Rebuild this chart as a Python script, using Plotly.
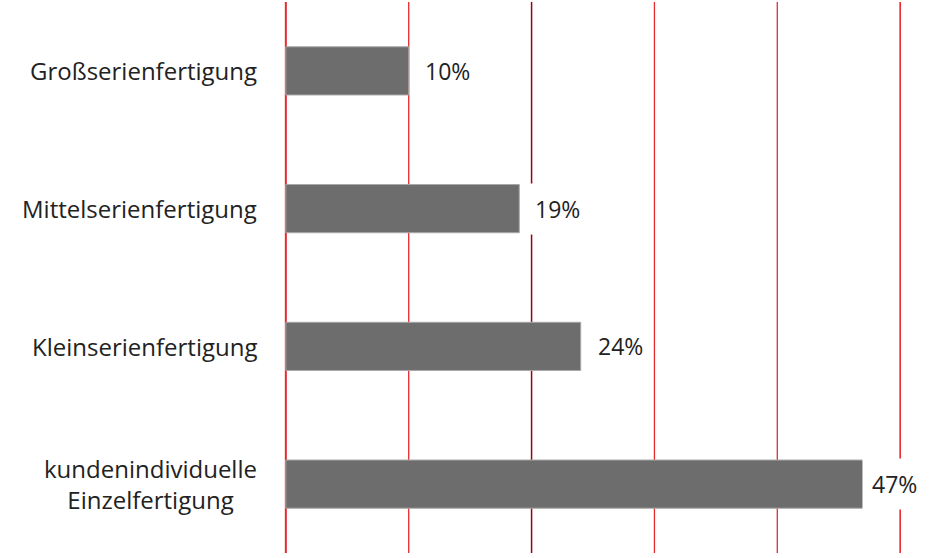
import plotly.graph_objects as go

categories = ["Großserienfertigung", "Mittelserienfertigung", "Kleinserienfertigung",
              "kundenindividuelle<br>Einzelfertigung"]
values = [10, 19, 24, 47]
labels = ["10%", "19%", "24%", "47%"]
grid_values = [0, 10, 20, 30, 40, 50]

# styling
grid_colors = ["#e52a30", "#e52a30", "#9a0010", "#e52a30", "#e52a30", "#e52a30"]
grid_widths = [2, 1.3, 1.5, 1.3, 1.3, 1.6]
label_shifts = [6, 6, 7, -1]

fig = go.Figure()
fig.add_trace(go.Bar(
    y=categories, x=values, orientation="h",
    marker=dict(color="#6d6d6d", line=dict(color="#a8a8a8", width=1)),
    width=0.35, hoverinfo="skip",
))

shapes = []
for gv, gc, gw in zip(grid_values, grid_colors, grid_widths):
    shapes.append(dict(type="line", xref="x", yref="paper", x0=gv, x1=gv, y0=0, y1=1,
                       line=dict(color=gc, width=gw), layer="below"))

annotations = []
for c, v, l, s in zip(categories, values, labels, label_shifts):
    annotations.append(dict(x=v, y=c, xref="x", yref="y", text=l, showarrow=False,
                            xanchor="left", xshift=s, bgcolor="white", borderpad=9,
                            font=dict(size=23, color="#222222", family="Open Sans")))
    annotations.append(dict(x=0, y=c, xref="x", yref="y", text=c, showarrow=False,
                            xanchor="right", xshift=-27, align="center",
                            font=dict(size=24, color="#222222", family="Open Sans")))

fig.update_layout(
    width=933, height=558,
    margin=dict(l=284, r=31, t=2, b=5),
    plot_bgcolor="white", paper_bgcolor="white",
    showlegend=False,
    shapes=shapes, annotations=annotations,
    font=dict(family="Open Sans", size=23, color="#222222"),
    xaxis=dict(range=[-0.15, 50.15], showgrid=False, showticklabels=False, zeroline=False,
               showline=False, fixedrange=True, automargin=False),
    yaxis=dict(autorange=False, range=[3.5, -0.5], showgrid=False, zeroline=False,
               showline=False, ticks="", showticklabels=False, automargin=False,
               fixedrange=True),
)

fig.write_html("out.html", post_script="document.body.style.margin='0';",
               config={"displayModeBar": False, "staticPlot": True})
